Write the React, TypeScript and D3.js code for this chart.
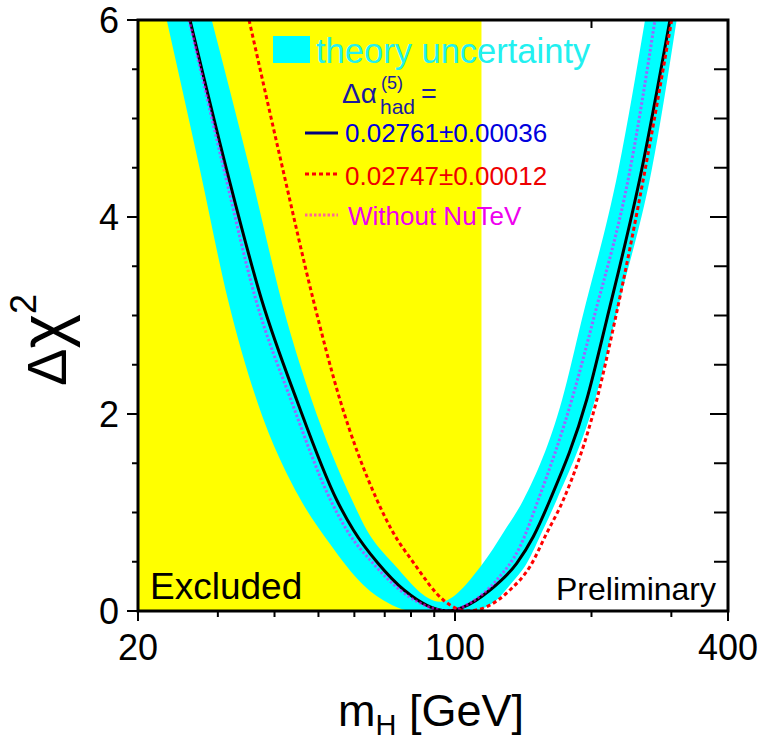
import React from 'react';
import * as d3 from 'd3';

const W = 764;
const H = 741;

// axis domains and ticks
const xDomain: [number, number] = [20, 400];
const yDomain: [number, number] = [0, 6];
const xMajorTicks = [20, 100, 400];
const xMinorTicks = [30, 40, 50, 60, 70, 80, 90, 200, 300];
const yMajorTicks = [0, 2, 4, 6];
const yMinorTicks = [0.5, 1, 1.5, 2.5, 3, 3.5, 4.5, 5, 5.5];
const excludedMass = 114.4;

// solid black: Δα_had = 0.02761 ± 0.00036
const fitMass = [26.04, 31.38, 37.48, 44.77, 54.86, 59.69, 67.65, 77.19, 96.0, 104.3, 119.5, 136.8, 148.8, 162.0, 195.1, 216.0, 258.0, 297.9];
const fitChi2 = [6.0, 4.477, 3.157, 2.142, 1.127, 0.822, 0.484, 0.213, 0.0, 0.04, 0.213, 0.484, 0.754, 1.127, 2.142, 2.954, 4.477, 6.0];

// red dashed: 0.02747 ± 0.00012
const altMass = [35.15, 41.76, 48.71, 55.79, 67.3, 72.53, 81.22, 94.23, 106.3, 117.5, 132.2, 146.3, 159.3, 173.3, 205.4, 225.4, 262.5, 300.5];
const altChi2 = [6.0, 4.477, 3.157, 2.142, 1.127, 0.822, 0.484, 0.112, 0.0, 0.044, 0.213, 0.45, 0.789, 1.127, 2.142, 2.954, 4.477, 6.0];

// magenta dotted: without NuTeV
const nutevMass = [25.91, 30.96, 36.4, 43.49, 53.16, 57.72, 65.97, 75.64, 97.5, 107.9, 123.6, 139.1, 152.6, 180.9, 201.8, 243.2, 276.1];
const nutevChi2 = [6.0, 4.477, 3.157, 2.142, 1.127, 0.822, 0.484, 0.213, 0.0, 0.081, 0.315, 0.653, 1.127, 2.142, 2.954, 4.477, 6.0];

// theory-uncertainty band: outer (lower) envelope
const bandOuterMass = [23.14, 27.4, 31.59, 36.23, 45.07, 53.03, 62.79, 71.9, 80.82, 107.9, 123.6, 132.2, 144.1, 156.3, 167.6, 203.6, 231.1, 271.5, 308.2];
const bandOuterChi2 = [6.0, 4.477, 3.157, 2.193, 1.178, 0.68, 0.264, 0.071, 0.0, 0.0, 0.112, 0.264, 0.487, 0.822, 1.127, 2.142, 3.157, 4.477, 6.0];
// inner (upper) envelope
const bandInnerMass = [29.08, 35.32, 42.55, 48.31, 59.29, 63.89, 73.01, 92.67, 114.1, 128.9, 141.5, 172.2, 190.3, 229.2, 262.5];
const bandInnerChi2 = [6.0, 4.477, 2.954, 2.142, 1.127, 0.822, 0.484, 0.094, 0.457, 0.822, 1.127, 2.142, 2.954, 4.477, 6.0];

const FONT = "'Liberation Sans', Arial, Helvetica, sans-serif";

const zip = (a: number[], b: number[]): [number, number][] => a.map((v, i) => [v, b[i]]);

export default function App() {
  const x = d3.scaleLog().domain(xDomain).range([138, 728]);
  const y = d3.scaleLinear().domain(yDomain).range([611, 20]);
  const [x0, x1] = x.range();
  const [y0, y1] = [y(6), y(0)];

  const line = d3
    .line<[number, number]>()
    .x((d) => x(d[0]))
    .y((d) => y(d[1]))
    .curve(d3.curveMonotoneX);

  // closed region lying above a U-shaped curve (closed through the space above the frame)
  const above = (ms: number[], cs: number[]) => {
    const p = line(zip(ms, cs)) || '';
    const mLast = ms[ms.length - 1];
    return `${p}L${x(mLast)},${y0 - 60}L${x(ms[0])},${y0 - 60}Z`;
  };

  const exclX = x(excludedMass);

  return (
    <svg width={W} height={H} style={{ position: 'absolute', left: 0, top: 0, background: '#fff' }} fontFamily={FONT}>
      <defs>
        <clipPath id="plot">
          <rect x={x0} y={y0} width={x1 - x0} height={y1 - y0} />
        </clipPath>
        <mask id="bandMask" maskUnits="userSpaceOnUse" x={0} y={-100} width={W} height={H + 200}>
          <path d={above(bandOuterMass, bandOuterChi2)} fill="white" />
          <path d={above(bandInnerMass, bandInnerChi2)} fill="black" />
        </mask>
      </defs>

      {/* inward ticks on top and right (drawn under fills) */}
      <g stroke="#000" strokeWidth={2}>
        {yMajorTicks.map((t) => (
          <line key={'rM' + t} x1={x1 - 18} x2={x1} y1={y(t)} y2={y(t)} />
        ))}
        {yMinorTicks.map((t) => (
          <line key={'rm' + t} x1={x1 - 14} x2={x1} y1={y(t)} y2={y(t)} />
        ))}
        {xMajorTicks.map((t) => (
          <line key={'tM' + t} x1={x(t)} x2={x(t)} y1={y0} y2={y0 + 12} />
        ))}
        {xMinorTicks.map((t) => (
          <line key={'tm' + t} x1={x(t)} x2={x(t)} y1={y0} y2={y0 + 8} />
        ))}
      </g>

      {/* excluded region */}
      <rect x={x0} y={y0} width={exclX - x0} height={y1 - y0} fill="#ffff00" />

      <g clipPath="url(#plot)">
        <rect x={x0} y={y0} width={x1 - x0} height={y1 - y0} fill="#00ffff" mask="url(#bandMask)" />
        <path d={line(zip(fitMass, fitChi2)) || ''} fill="none" stroke="#000" strokeWidth={3} />
        <path d={line(zip(altMass, altChi2)) || ''} fill="none" stroke="#ff0000" strokeWidth={3} strokeDasharray="4,3" />
        <path
          d={line(zip(nutevMass, nutevChi2)) || ''}
          fill="none"
          stroke="#ff00ff"
          strokeOpacity={0.6}
          strokeWidth={3}
          strokeDasharray="2.5,2"
        />
      </g>

      {/* legend */}
      <rect x={273} y={36} width={37} height={27} fill="#00ffff" />
      <text x={316} y={63} fontSize={34.5} fill="#22f0f0">theory uncertainty</text>
      <text x={342} y={103} fontSize={28} fill="#1a1aa0">Δα</text>
      <text x={381} y={89} fontSize={18} fill="#1a1aa0">(5)</text>
      <text x={380} y={114} fontSize={21} fill="#1a1aa0">had</text>
      <text x={421} y={103} fontSize={27} fill="#1a1aa0">=</text>

      <line x1={305} x2={338} y1={133} y2={133} stroke="#000080" strokeWidth={3} />
      <text x={345} y={142} fontSize={26} fill="#0000dd">0.02761±0.00036</text>
      <line x1={305} x2={338} y1={174} y2={174} stroke="#ff0000" strokeWidth={3} strokeDasharray="4,3" />
      <text x={345} y={185} fontSize={26} fill="#ee0000">0.02747±0.00012</text>
      <line x1={305} x2={338} y1={215} y2={215} stroke="#ff00ff" strokeOpacity={0.6} strokeWidth={3} strokeDasharray="2.5,2" />
      <text x={348} y={225} fontSize={26} fill="#ee00ee">Without NuTeV</text>

      <text x={150} y={599} fontSize={37} fill="#000">Excluded</text>
      <text x={716} y={600} fontSize={32} fill="#000" textAnchor="end">Preliminary</text>

      {/* frame */}
      <rect x={x0} y={y0} width={x1 - x0} height={y1 - y0} fill="none" stroke="#000" strokeWidth={3} />

      {/* outward ticks left and bottom */}
      <g stroke="#000" strokeWidth={2}>
        {yMajorTicks.map((t) => (
          <line key={'lM' + t} x1={x0 - 11} x2={x0} y1={y(t)} y2={y(t)} />
        ))}
        {yMinorTicks.map((t) => (
          <line key={'lm' + t} x1={x0 - 6} x2={x0} y1={y(t)} y2={y(t)} />
        ))}
        {xMajorTicks.map((t) => (
          <line key={'bM' + t} x1={x(t)} x2={x(t)} y1={y1} y2={y1 + 10} />
        ))}
        {xMinorTicks.map((t) => (
          <line key={'bm' + t} x1={x(t)} x2={x(t)} y1={y1} y2={y1 + 6} />
        ))}
      </g>

      {/* tick labels */}
      {yMajorTicks.map((t) => (
        <text key={'yl' + t} x={119} y={y(t) + 13} fontSize={36} textAnchor="end" fill="#000">
          {t}
        </text>
      ))}
      {xMajorTicks.map((t) => (
        <text key={'xl' + t} x={x(t)} y={660} fontSize={36} textAnchor="middle" fill="#000">
          {t}
        </text>
      ))}

      {/* axis titles */}
      <text x={338} y={726} fontSize={45} fill="#000">
        m<tspan fontSize={29} dy={9}>H</tspan>
        <tspan dy={-9}> [GeV]</tspan>
      </text>
      <text transform="translate(66,386) rotate(-90)" fontSize={56} fill="#000">
        Δ<tspan fontSize={66}>χ</tspan>
        <tspan fontSize={36} dy={-30}>2</tspan>
      </text>
    </svg>
  );
}
